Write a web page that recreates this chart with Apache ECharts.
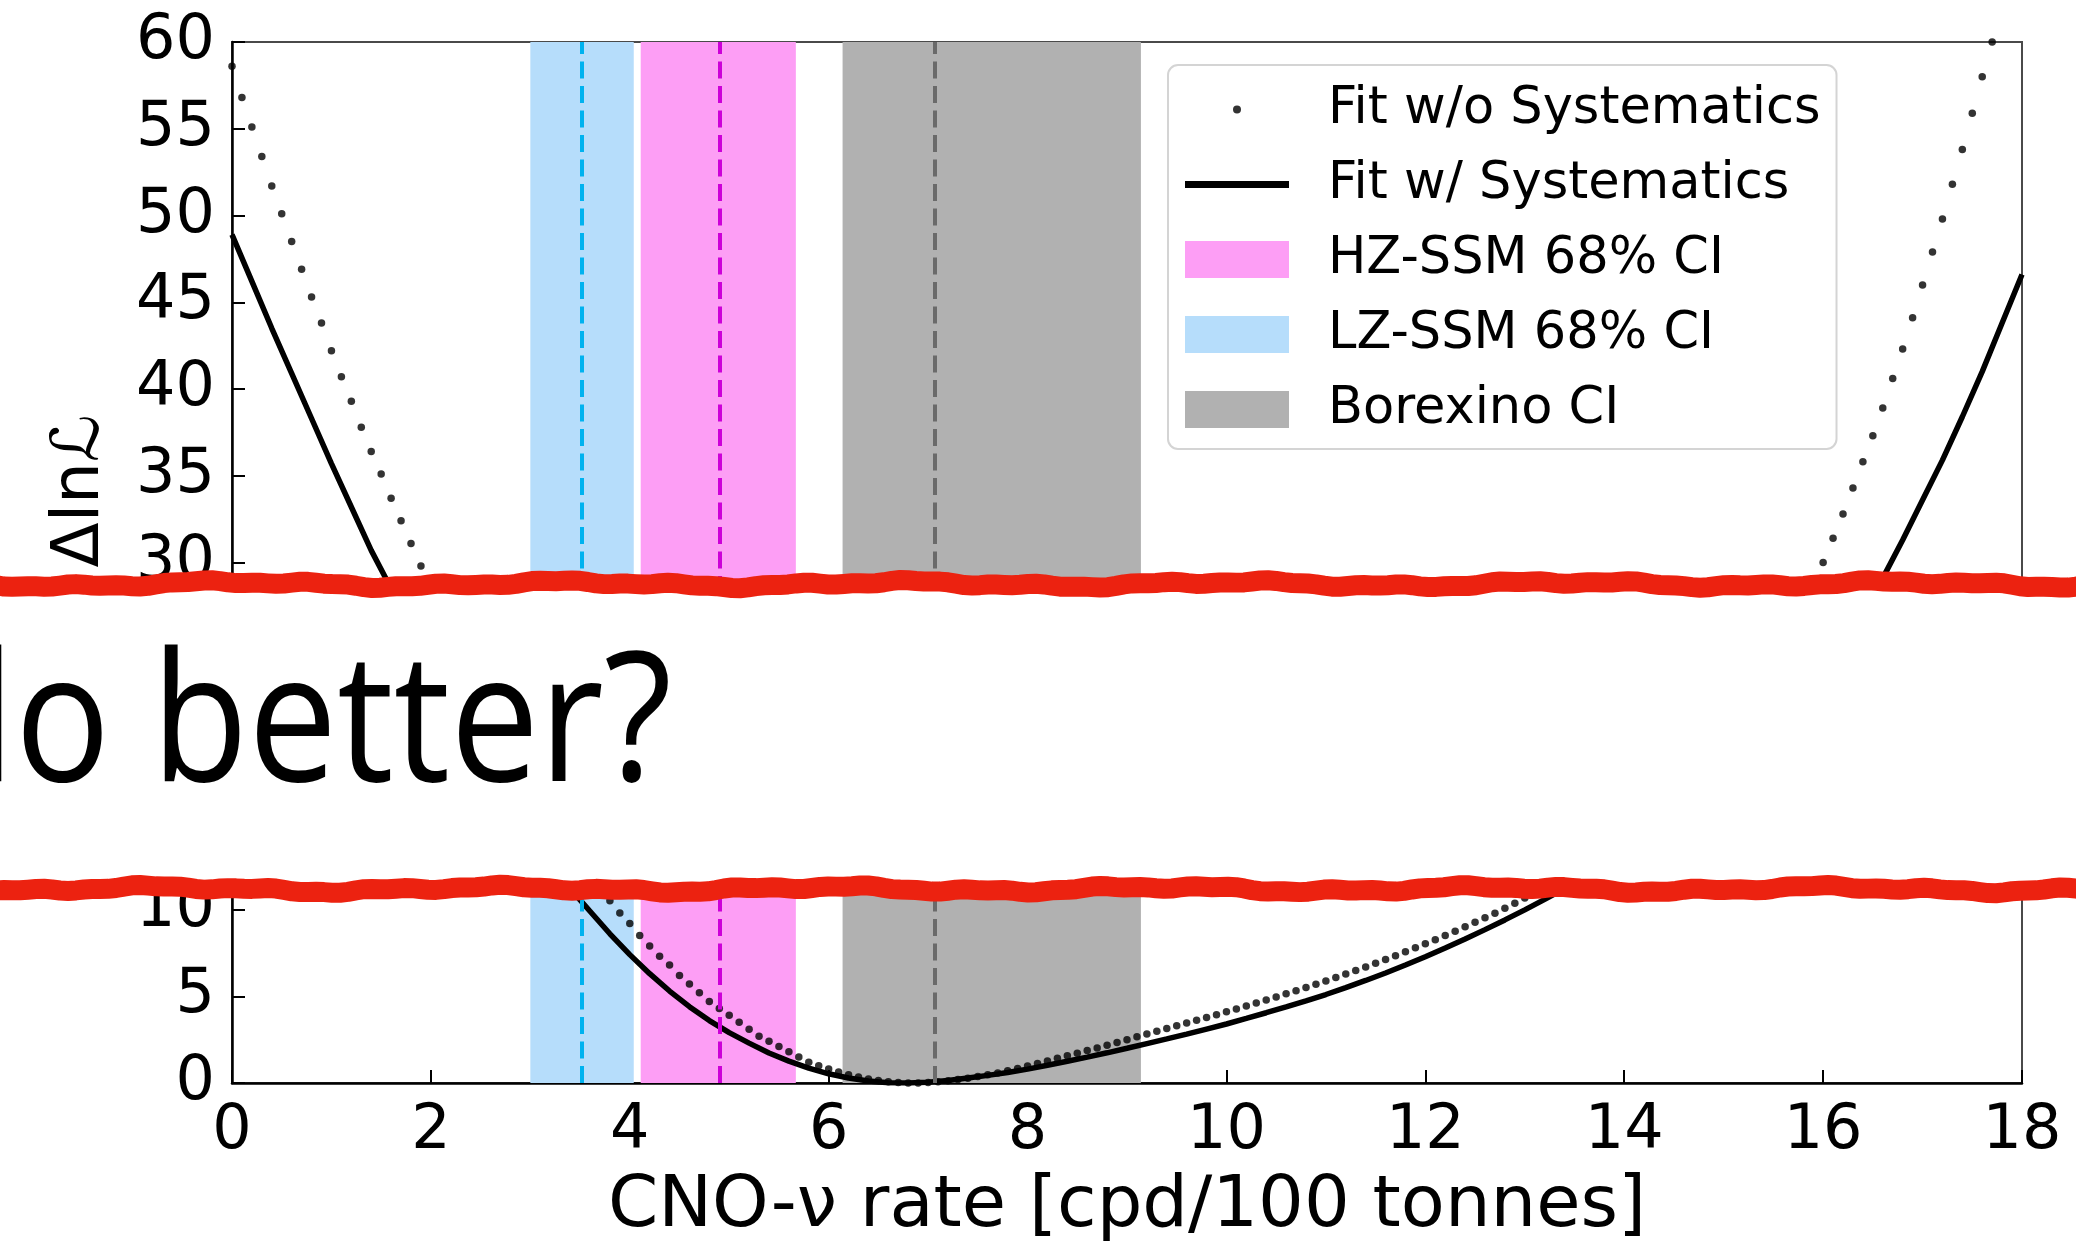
<!DOCTYPE html>
<html>
<head>
<meta charset="utf-8">
<script src="https://cdn.jsdelivr.net/npm/echarts@6/dist/echarts.min.js"></script>
<style>
  html, body { margin: 0; padding: 0; background: #ffffff; }
  #chart { width: 2076px; height: 1256px; }
</style>
</head>
<body>
<div id="chart"></div>
<script>
// Profile likelihood scan of the CNO-nu rate, with and without systematics.

// Scan points of the fit without systematics (cpd/100 tonnes)
const rateNoSys = [
  0.0, 0.1, 0.2, 0.3, 0.4, 0.5, 0.6, 0.7, 0.8, 0.9,
  1.0, 1.1, 1.2, 1.3, 1.4, 1.5, 1.6, 1.7, 1.8, 1.9,
  2.0, 2.1, 2.2, 2.3, 2.4, 2.5, 2.6, 2.7, 2.8, 2.9,
  3.0, 3.1, 3.2, 3.3, 3.4, 3.5, 3.6, 3.7, 3.8, 3.9,
  4.0, 4.1, 4.2, 4.3, 4.4, 4.5, 4.6, 4.7, 4.8, 4.9,
  5.0, 5.1, 5.2, 5.3, 5.4, 5.5, 5.6, 5.7, 5.8, 5.9,
  6.0, 6.1, 6.2, 6.3, 6.4, 6.5, 6.6, 6.7, 6.8, 6.9,
  7.0, 7.1, 7.2, 7.3, 7.4, 7.5, 7.6, 7.7, 7.8, 7.9,
  8.0, 8.1, 8.2, 8.3, 8.4, 8.5, 8.6, 8.7, 8.8, 8.9,
  9.0, 9.1, 9.2, 9.3, 9.4, 9.5, 9.6, 9.7, 9.8, 9.9,
  10.0, 10.1, 10.2, 10.3, 10.4, 10.5, 10.6, 10.7, 10.8, 10.9,
  11.0, 11.1, 11.2, 11.3, 11.4, 11.5, 11.6, 11.7, 11.8, 11.9,
  12.0, 12.1, 12.2, 12.3, 12.4, 12.5, 12.6, 12.7, 12.8, 12.9,
  13.0, 13.1, 13.2, 13.3, 13.4, 13.5, 13.6, 13.7, 13.8, 13.9,
  14.0, 14.1, 14.2, 14.3, 14.4, 14.5, 14.6, 14.7, 14.8, 14.9,
  15.0, 15.1, 15.2, 15.3, 15.4, 15.5, 15.6, 15.7, 15.8, 15.9,
  16.0, 16.1, 16.2, 16.3, 16.4, 16.5, 16.6, 16.7, 16.8, 16.9,
  17.0, 17.1, 17.2, 17.3, 17.4, 17.5, 17.6, 17.7
];
const dllNoSys = [
  58.6, 56.8, 55.1, 53.4, 51.7, 50.1, 48.5, 46.9, 45.3, 43.8,
  42.2, 40.7, 39.3, 37.8, 36.4, 35.1, 33.7, 32.4, 31.1, 29.8,
  28.6, 27.3, 26.1, 24.9, 23.7, 22.5, 21.4, 20.4, 19.3, 18.3,
  17.3, 16.4, 15.4, 14.5, 13.7, 12.8, 12.0, 11.2, 10.5, 9.8,
  9.2, 8.5, 7.9, 7.3, 6.8, 6.2, 5.7, 5.2, 4.7, 4.3,
  3.9, 3.5, 3.1, 2.7, 2.4, 2.1, 1.8, 1.5, 1.2, 1.0,
  0.8, 0.64, 0.48, 0.34, 0.23, 0.14, 0.07, 0.03, 0.0, 0.0,
  0.03, 0.07, 0.13, 0.2, 0.28, 0.37, 0.47, 0.58, 0.7, 0.84,
  0.98, 1.12, 1.27, 1.42, 1.57, 1.72, 1.87, 2.02, 2.18, 2.34,
  2.5, 2.66, 2.82, 2.98, 3.14, 3.3, 3.46, 3.62, 3.78, 3.94,
  4.1, 4.27, 4.44, 4.61, 4.78, 4.96, 5.14, 5.32, 5.5, 5.69,
  5.88, 6.08, 6.28, 6.48, 6.69, 6.9, 7.12, 7.34, 7.56, 7.79,
  8.02, 8.26, 8.5, 8.75, 9.0, 9.26, 9.52, 9.79, 10.07, 10.36,
  10.66, 10.96, 11.27, 11.58, 11.9, 12.22, 12.56, 12.92, 13.29, 13.68,
  14.1, 14.53, 15.0, 15.49, 16.01, 16.56, 17.15, 17.78, 18.45, 19.16,
  19.91, 20.72, 21.57, 22.47, 23.42, 24.43, 25.5, 26.6, 27.7, 28.8,
  30.0, 31.4, 32.8, 34.3, 35.8, 37.3, 38.9, 40.6, 42.3, 44.1,
  46.0, 47.9, 49.8, 51.8, 53.8, 55.9, 58.0, 60.0
];

// Scan points of the fit with systematics
const rateSys = [
  0.0, 0.2, 0.4, 0.6, 0.8, 1.0, 1.2, 1.4, 1.6, 1.8,
  2.0, 2.2, 2.4, 2.6, 2.8, 3.0, 3.2, 3.4, 3.6, 3.8,
  4.0, 4.2, 4.4, 4.6, 4.8, 5.0, 5.2, 5.4, 5.6, 5.8,
  6.0, 6.2, 6.4, 6.6, 6.8, 7.0, 7.2, 7.4, 7.6, 7.8,
  8.0, 8.2, 8.4, 8.6, 8.8, 9.0, 9.2, 9.4, 9.6, 9.8,
  10.0, 10.2, 10.4, 10.6, 10.8, 11.0, 11.2, 11.4, 11.6, 11.8,
  12.0, 12.2, 12.4, 12.6, 12.8, 13.0, 13.2, 13.4, 13.6, 13.8,
  14.0, 14.2, 14.4, 14.6, 14.8, 15.0, 15.2, 15.4, 15.6, 15.8,
  16.0, 16.2, 16.4, 16.6, 16.8, 17.0, 17.2, 17.4, 17.6, 17.8,
  18.0
];
const dllSys = [
  48.9, 46.2, 43.5, 40.9, 38.3, 35.7, 33.2, 30.7, 28.5, 26.1,
  23.8, 21.7, 19.7, 17.8, 16.0, 14.3, 12.7, 11.2, 9.9, 8.6,
  7.4, 6.3, 5.3, 4.4, 3.6, 2.9, 2.3, 1.73, 1.26, 0.86,
  0.53, 0.29, 0.12, 0.02, 0.0, 0.05, 0.15, 0.29, 0.44, 0.61,
  0.8, 1.02, 1.25, 1.49, 1.74, 2.0, 2.27, 2.54, 2.82, 3.11,
  3.4, 3.72, 4.05, 4.39, 4.74, 5.1, 5.5, 5.91, 6.34, 6.8,
  7.28, 7.78, 8.3, 8.84, 9.4, 9.98, 10.58, 11.2, 11.83, 12.47,
  13.14, 13.86, 14.62, 15.46, 16.36, 17.36, 18.45, 19.66, 20.99, 22.45,
  23.9, 25.5, 27.2, 29.1, 31.3, 33.6, 35.9, 38.4, 41.0, 43.8,
  46.6
];

// Confidence intervals: [low, high] and central value
const ciNames   = ['HZ-SSM 68% CI', 'LZ-SSM 68% CI', 'Borexino CI'];
const ciLow     = [4.11, 3.00, 6.14];
const ciHigh    = [5.67, 4.04, 9.14];
const ciCentral = [4.90, 3.52, 7.07];
const ciFill    = ['#fd9ef5', '#b6ddfb', '#b1b1b1'];
const ciLine    = ['#cc00d8', '#00b2ef', '#6a6a6a'];

// Axis ticks
const xTicks = { min: 0, max: 18, step: 2 };
const yTicks = { min: 0, max: 60, step: 5 };

const FONT = '"DejaVu Sans", "Noto Sans", sans-serif';

const bandSeries = ciNames.map((name, i) => ({
  name: name,
  type: 'line',
  data: [],
  z: 1,
  itemStyle: { color: ciFill[i] },
  lineStyle: { color: ciFill[i] },
  markArea: {
    silent: true,
    itemStyle: { color: ciFill[i], opacity: 1 },
    data: [[{ xAxis: ciLow[i] }, { xAxis: ciHigh[i] }]]
  },
  markLine: {
    silent: true,
    symbol: ['none', 'none'],
    label: { show: false },
    lineStyle: { color: ciLine[i], width: 4, type: [17, 7.5] },
    data: [{ xAxis: ciCentral[i] }]
  }
}));

// Red torn-paper style strokes framing the caption band
function wavyLine(base, phase) {
  const pts = [];
  for (let x = -20; x <= 2100; x += 8) {
    const y = base
      + 2.2 * Math.sin(x / 53 + phase)
      + 1.4 * Math.sin(x / 19 + 2 * phase)
      + 0.7 * Math.sin(x / 7.3 + 3 * phase);
    pts.push([x, y]);
  }
  return pts;
}

const chart = echarts.init(document.getElementById('chart'), null, { renderer: 'canvas' });

chart.setOption({
  backgroundColor: '#ffffff',
  animation: false,
  grid: {
    left: 232, top: 42, right: 54, bottom: 173,
    show: true, borderColor: '#4a4a4a', borderWidth: 2,
    backgroundColor: 'transparent'
  },
  xAxis: {
    type: 'value',
    min: xTicks.min, max: xTicks.max, interval: xTicks.step,
    name: 'CNO-ν rate [cpd/100 tonnes]',
    nameLocation: 'middle',
    nameGap: 88,
    nameTextStyle: { fontFamily: FONT, fontSize: 72, color: '#000' },
    axisLine: { lineStyle: { color: '#000', width: 2.5 } },
    axisTick: { inside: true, length: 13, lineStyle: { color: '#000', width: 2 } },
    axisLabel: { fontFamily: FONT, fontSize: 62, color: '#000', margin: 18 },
    splitLine: { show: false }
  },
  yAxis: {
    type: 'value',
    min: yTicks.min, max: yTicks.max, interval: yTicks.step,
    name: 'Δlnℒ',
    nameLocation: 'middle',
    nameRotate: 90,
    nameGap: 118,
    nameTextStyle: { fontFamily: FONT, fontSize: 66, color: '#000', padding: [0, 0, 0, 143] },
    axisLine: { lineStyle: { color: '#000', width: 2.5 } },
    axisTick: { inside: true, length: 13, lineStyle: { color: '#000', width: 2 } },
    axisLabel: { fontFamily: FONT, fontSize: 62, color: '#000', margin: 17 },
    splitLine: { show: false }
  },
  legend: {
    orient: 'vertical',
    left: 1168, top: 65,
    padding: [19, 16, 14, 17],
    itemGap: 24,
    itemWidth: 104,
    itemHeight: 37,
    selectedMode: false,
    backgroundColor: 'rgba(255,255,255,0.85)',
    borderColor: '#d4d4d4',
    borderWidth: 2,
    borderRadius: 10,
    textStyle: { fontFamily: FONT, fontSize: 51, color: '#000', padding: [0, 0, 0, 34] },
    data: [
      { name: 'Fit w/o Systematics', icon: 'path://M0,0M104,37M48,18.5a4,4,0,1,0,8,0a4,4,0,1,0,-8,0z' },
      { name: 'Fit w/ Systematics', icon: 'path://M0,0M104,37M0,15H104V22H0z' },
      { name: ciNames[0], icon: 'rect' },
      { name: ciNames[1], icon: 'rect' },
      { name: ciNames[2], icon: 'rect' }
    ]
  },
  series: [
    ...bandSeries,
    {
      name: 'Fit w/ Systematics',
      type: 'line',
      z: 3,
      symbol: 'none',
      itemStyle: { color: '#000' },
      lineStyle: { color: '#000', width: 5.5 },
      data: rateSys.map((x, i) => [x, dllSys[i]])
    },
    {
      name: 'Fit w/o Systematics',
      type: 'scatter',
      z: 4,
      symbol: 'circle',
      symbolSize: 7.5,
      itemStyle: { color: '#000' },
      data: rateNoSys.map((x, i) => [x, dllNoSys[i]])
    }
  ],
  graphic: [
    {
      type: 'rect', z: 100,
      shape: { x: 0, y: 584, width: 2076, height: 305 },
      style: { fill: '#ffffff' }
    },
    {
      type: 'polyline', z: 101,
      shape: { points: wavyLine(584, 0.3) },
      style: { stroke: '#ec2210', lineWidth: 20, fill: null, lineJoin: 'round', lineCap: 'round' }
    },
    {
      type: 'polyline', z: 101,
      shape: { points: wavyLine(889, 1.7) },
      style: { stroke: '#ec2210', lineWidth: 20, fill: null, lineJoin: 'round', lineCap: 'round' }
    },
    {
      type: 'text', z: 102,
      x: -82, y: 730, scaleX: 0.88,
      style: {
        text: 'do better?',
        font: 'normal 180px "Open Sans", "DejaVu Sans", sans-serif',
        fill: '#000',
        textAlign: 'left',
        textVerticalAlign: 'middle'
      }
    }
  ]
});
</script>
</body>
</html>
